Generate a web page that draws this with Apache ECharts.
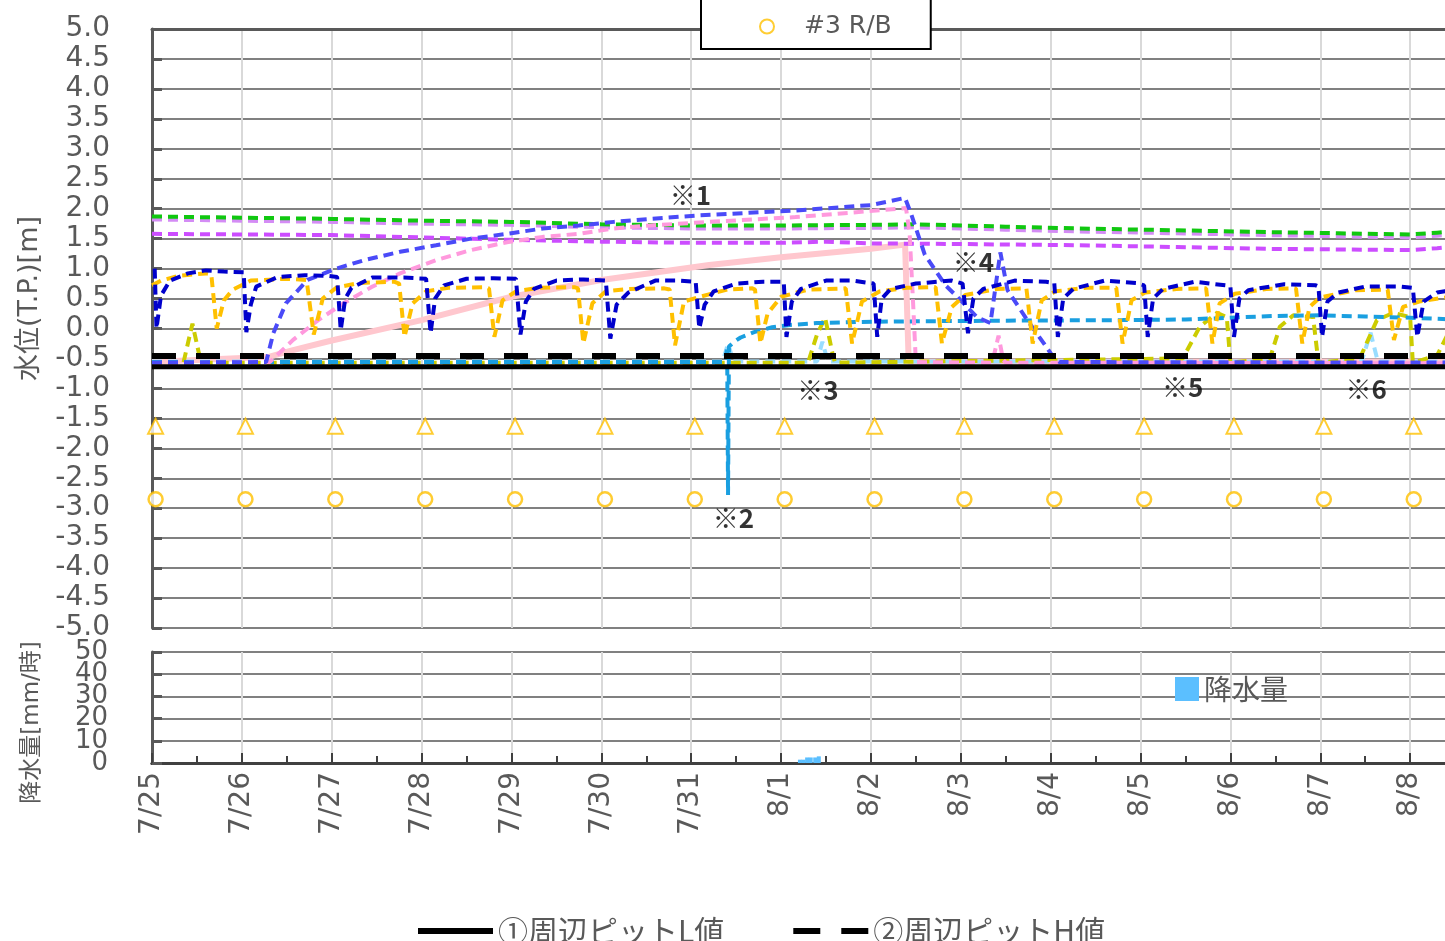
<!DOCTYPE html>
<html><head><meta charset="utf-8">
<script src="https://cdn.jsdelivr.net/npm/echarts@6/dist/echarts.min.js"></script>
<style>html,body{margin:0;padding:0;background:#fff;overflow:hidden}#c{width:1500px;height:941px}</style>
</head><body><div id="c"></div><script>
// ---- categories / tick labels ----
const dateLabels = ['7/25','7/26','7/27','7/28','7/29','7/30','7/31','8/1','8/2','8/3','8/4','8/5','8/6','8/7','8/8','8/9'];
const rainTicksA = [0,20,40];
const rainTicksB = [10,30,50];
// x values = days since 7/25 0:00
// ---- series values ----
const pitL = [[0,-0.64],[15,-0.64]];
const pitH = [[0,-0.46],[15,-0.46]];
const green = [[0,1.87],[1,1.85],[2,1.83],[3,1.8],[4,1.78],[5,1.74],[6,1.72],[7,1.72],[8,1.73],[8.5,1.74],[9.5,1.7],[10.3,1.67],[11.4,1.64],[12.4,1.61],[13.2,1.59],[14.0,1.57],[14.3,1.6],[14.5,1.62]];
const violet = [[0,1.82],[1,1.8],[2,1.78],[3,1.75],[4,1.73],[5,1.69],[6,1.67],[7,1.67],[8,1.68],[8.5,1.69],[9.5,1.65],[10.3,1.62],[11.4,1.59],[12.4,1.56],[13.2,1.54],[14.0,1.52],[14.3,1.55],[14.5,1.57]];
const magenta = [[0,1.58],[1,1.57],[2,1.56],[3,1.52],[4,1.48],[5,1.45],[6,1.43],[7,1.43],[7.5,1.45],[8,1.42],[9,1.41],[10.3,1.39],[11.4,1.36],[12.4,1.33],[13.2,1.32],[14.0,1.31],[14.3,1.34],[14.5,1.37]];
const blue = [[0,-0.57],[1.27,-0.56],[1.35,-0.08],[1.49,0.42],[1.73,0.81],[2.05,1.0],[2.36,1.14],[2.76,1.28],[3.16,1.39],[3.55,1.5],[3.95,1.58],[4.35,1.67],[4.75,1.72],[5.14,1.78],[5.54,1.83],[6.1,1.89],[7.16,1.97],[8.0,2.06],[8.38,2.18],[8.45,1.9],[8.6,1.23],[8.83,0.72],[8.96,0.53],[9.18,0.19],[9.33,0.09],[9.44,1.27],[9.52,0.64],[9.74,0.14],[9.92,-0.24],[10.03,-0.48],[10.1,-0.56],[14.5,-0.57]];
const pinkDash = [[0,-0.58],[1.31,-0.56],[1.57,-0.19],[1.85,0.14],[2.13,0.42],[2.44,0.69],[2.76,0.92],[3.16,1.14],[3.55,1.31],[3.95,1.44],[4.35,1.53],[4.75,1.58],[5.14,1.67],[5.54,1.72],[6.2,1.78],[7.16,1.86],[8.32,2.0],[8.39,2.01],[8.43,1.6],[8.47,0.4],[8.5,-0.56],[9.35,-0.57],[9.42,-0.12],[9.47,-0.52],[9.5,-0.57],[14.5,-0.58]];
const pinkSolid = [[0,-0.56],[1.31,-0.47],[1.57,-0.36],[2,-0.2],[3,0.14],[4,0.53],[5,0.81],[6.2,1.06],[7,1.19],[8,1.33],[8.38,1.4],[8.42,-0.55],[14.5,-0.55]];
const darkBlue = [[0.03,1.0],[0.05,0.0],[0.1,0.55],[0.2,0.8],[0.4,0.92],[0.6,0.97],[0.8,0.95],[1.02,0.94],[1.05,-0.06],[1.1,0.4],[1.16,0.7],[1.4,0.86],[1.7,0.89],[1.95,0.88],[2.06,0.86],[2.1,-0.03],[2.15,0.5],[2.22,0.68],[2.45,0.85],[2.8,0.85],[3.05,0.83],[3.1,-0.08],[3.15,0.5],[3.25,0.72],[3.5,0.83],[3.8,0.84],[4.05,0.83],[4.1,-0.1],[4.16,0.45],[4.25,0.66],[4.5,0.8],[4.8,0.82],[5.05,0.8],[5.1,-0.17],[5.17,0.4],[5.3,0.6],[5.6,0.8],[5.85,0.8],[6.05,0.78],[6.09,0.0],[6.15,0.4],[6.25,0.62],[6.5,0.75],[6.8,0.78],[7.03,0.78],[7.06,-0.14],[7.12,0.45],[7.22,0.66],[7.5,0.8],[7.8,0.8],[8.03,0.75],[8.07,-0.14],[8.12,0.5],[8.22,0.66],[8.5,0.75],[8.9,0.8],[9.02,0.75],[9.08,-0.08],[9.14,0.5],[9.25,0.66],[9.6,0.8],[9.95,0.78],[10.04,0.76],[10.08,-0.14],[10.14,0.5],[10.25,0.66],[10.6,0.8],[10.95,0.76],[11.04,0.72],[11.08,-0.14],[11.14,0.5],[11.25,0.66],[11.6,0.78],[11.95,0.72],[12.0,0.7],[12.04,-0.14],[12.1,0.5],[12.2,0.64],[12.6,0.74],[12.95,0.72],[12.98,0.7],[13.02,-0.14],[13.08,0.45],[13.2,0.6],[13.5,0.7],[13.9,0.7],[14.03,0.68],[14.08,-0.14],[14.15,0.45],[14.3,0.6],[14.5,0.65]];
const yellow = [[0,0.72],[0.1,0.8],[0.3,0.88],[0.6,0.92],[0.66,0.9],[0.72,0.0],[0.8,0.47],[0.9,0.65],[1.1,0.8],[1.5,0.83],[1.72,0.81],[1.8,-0.1],[1.9,0.5],[2.05,0.68],[2.3,0.76],[2.7,0.78],[2.75,0.75],[2.81,-0.14],[2.9,0.42],[3.05,0.62],[3.3,0.68],[3.7,0.69],[3.75,0.67],[3.81,-0.14],[3.9,0.47],[4.05,0.62],[4.3,0.68],[4.7,0.69],[4.74,0.67],[4.8,-0.25],[4.9,0.42],[5.05,0.62],[5.3,0.66],[5.7,0.67],[5.76,0.65],[5.82,-0.28],[5.92,0.45],[6.1,0.53],[6.4,0.65],[6.68,0.67],[6.71,0.65],[6.77,-0.25],[6.85,0.25],[7.0,0.53],[7.3,0.65],[7.72,0.67],[7.79,-0.25],[7.9,0.45],[8.1,0.62],[8.4,0.68],[8.72,0.69],[8.79,-0.25],[8.9,0.36],[9.05,0.56],[9.4,0.66],[9.73,0.67],[9.8,-0.25],[9.9,0.47],[10.05,0.62],[10.4,0.68],[10.73,0.68],[10.8,-0.25],[10.9,0.47],[11.05,0.6],[11.4,0.66],[11.73,0.67],[11.8,-0.25],[11.88,0.42],[12.05,0.58],[12.4,0.66],[12.73,0.67],[12.8,-0.25],[12.88,0.36],[13.0,0.52],[13.4,0.64],[13.75,0.65],[13.82,-0.19],[13.92,0.36],[14.1,0.45],[14.4,0.52]];
const mediumBlue = [[0,-0.56],[6.38,-0.56],[6.4,-0.3],[6.41,-2.78],[6.42,-0.3],[6.48,-0.22],[6.55,-0.15],[6.7,-0.06],[6.9,0.02],[7.1,0.06],[7.4,0.09],[7.9,0.11],[8.5,0.12],[9.4,0.13],[10.8,0.14],[11.5,0.15],[12.0,0.18],[12.5,0.21],[13.0,0.22],[13.5,0.2],[14.0,0.18],[14.5,0.15]];
const olive = [[0,-0.57],[0.35,-0.57],[0.45,0.08],[0.52,-0.4],[0.56,-0.57],[7.3,-0.57],[7.4,-0.1],[7.49,0.18],[7.57,-0.4],[7.6,-0.57],[11.47,-0.5],[11.66,0.03],[11.85,0.26],[11.96,0.19],[12.0,-0.57],[12.44,-0.5],[12.55,0.03],[12.7,0.22],[12.92,0.19],[12.98,-0.57],[13.44,-0.5],[13.63,0.14],[13.81,0.26],[14.0,0.19],[14.03,-0.57],[14.3,-0.45],[14.45,0.0]];
const lightBlue = [[0,-0.55],[6.35,-0.55],[6.41,-0.25],[6.47,-0.55],[7.4,-0.55],[7.46,-0.22],[7.52,-0.55],[13.46,-0.55],[13.56,-0.07],[13.64,-0.55],[14.5,-0.55]];
const tbMarks = [[0.04,-1.63],[1.04,-1.63],[2.04,-1.63],[3.04,-1.63],[4.04,-1.63],[5.04,-1.63],[6.04,-1.63],[7.04,-1.63],[8.04,-1.63],[9.04,-1.63],[10.04,-1.63],[11.04,-1.63],[12.04,-1.63],[13.04,-1.63],[14.04,-1.63]];
const rbMarks = [[0.04,-2.85],[1.04,-2.85],[2.04,-2.85],[3.04,-2.85],[4.04,-2.85],[5.04,-2.85],[6.04,-2.85],[7.04,-2.85],[8.04,-2.85],[9.04,-2.85],[10.04,-2.85],[11.04,-2.85],[12.04,-2.85],[13.04,-2.85],[14.04,-2.85]];
const rain = [[7.21,1.5],[7.25,1.5],[7.29,2.5],[7.33,2.5],[7.38,2.5],[7.42,3.0]];
const noteTexts = ['※1','※2','※3','※4','※5','※6'];
const notePos = [[5.99,2.23],[6.47,-3.16],[7.41,-1.03],[9.14,1.11],[11.47,-0.98],[13.51,-1.01]];

const NUM = "'DejaVu Sans','Noto Sans CJK JP',sans-serif";
const JP = "'Noto Sans CJK JP','DejaVu Sans',sans-serif";
const chart = echarts.init(document.getElementById('c'));
function ln(name, data, color, width, dash, extra) {
  return Object.assign({
    name, type:'line', data, xAxisIndex:0, yAxisIndex:0, symbol:'none', showSymbol:false,
    lineStyle:{color, width, type:dash, cap:'butt'}, itemStyle:{color}, silent:true, animation:false
  }, extra||{});
}
const xCommon = {type:'value', min:0, max:15, interval:1};
function rainAxis(ticks, main) {
  return {gridIndex:1, type:'value', min:0, max:50, interval:10, position:'left', offset:0,
    name: main ? '降水量[mm/時]' : '', nameLocation:'middle', nameGap:108, nameRotate:90,
    nameTextStyle:{fontSize:23, color:'#595959', fontFamily:NUM, padding:[0,30,0,0]},
    axisLine:{show:main, lineStyle:{color:'#595959', width:3}},
    axisTick:{show:main, inside:true, length:10, lineStyle:{color:'#595959', width:3}},
    axisLabel:{fontSize:26, color:'#595959', margin:44, fontFamily:NUM, padding:[0,0,8,0],
      showMinLabel:true, showMaxLabel:true, hideOverlap:false,
      formatter:v=>ticks.indexOf(v)>=0 ? String(v) : ''},
    splitLine:{show:main, lineStyle:{color:'#808080', width:2}}};
}
chart.setOption({
  animation:false,
  textStyle:{fontFamily:NUM},
  grid:[
    {left:152, right:0, top:29, bottom:313, outerBoundsMode:'none', containLabel:false},
    {left:152, right:0, top:652, bottom:178, outerBoundsMode:'none', containLabel:false}
  ],
  xAxis:[
    Object.assign({gridIndex:0, axisLine:{show:false}, axisTick:{show:false}, axisLabel:{show:false},
      splitLine:{show:true, lineStyle:{color:'#D9D9D9', width:2}}}, xCommon),
    Object.assign({gridIndex:0, position:'top', axisLine:{show:true, lineStyle:{color:'#595959', width:3}},
      axisTick:{show:false}, axisLabel:{show:false}, splitLine:{show:false}}, xCommon),
    Object.assign({gridIndex:1, position:'bottom', axisLine:{show:true, lineStyle:{color:'#404040', width:3}},
      axisTick:{show:true, inside:true, length:10, lineStyle:{color:'#404040', width:2}},
      minorTick:{show:true, splitNumber:2, length:7, lineStyle:{color:'#404040', width:2}},
      axisLabel:{rotate:90, margin:9, fontSize:28, color:'#595959', fontFamily:NUM,
        formatter:v=>dateLabels[Math.round(v)]},
      splitLine:{show:true, lineStyle:{color:'#D9D9D9', width:2}}}, xCommon),
    Object.assign({gridIndex:1, position:'top', axisLine:{show:true, lineStyle:{color:'#404040', width:3}},
      axisTick:{show:false}, axisLabel:{show:false}, splitLine:{show:false}}, xCommon)
  ],
  yAxis:[
    {gridIndex:0, type:'value', min:-5, max:5, interval:0.5,
      name:'水位(T.P.)[m]', nameLocation:'middle', nameGap:109, nameRotate:90,
      nameTextStyle:{fontSize:27, color:'#595959', fontFamily:NUM, padding:[0,0,0,60]},
      axisLine:{show:true, lineStyle:{color:'#595959', width:3}},
      axisTick:{show:true, inside:true, length:10, lineStyle:{color:'#595959', width:3}},
      axisLabel:{fontSize:28, color:'#595959', margin:42, fontFamily:NUM, padding:[0,0,8,0],
        showMinLabel:true, showMaxLabel:true, formatter:v=>v.toFixed(1)},
      splitLine:{show:true, lineStyle:{color:'#808080', width:2}}},
    rainAxis(rainTicksA, true),
    rainAxis(rainTicksB, false)
  ],
  legend:[
    {data:['#3 R/B'], left:701, top:-30, orient:'horizontal', borderColor:'#000', borderWidth:2,
      padding:[44,39,10,58], itemWidth:64, itemHeight:14, backgroundColor:'#fff',
      textStyle:{fontSize:25, color:'#595959', fontFamily:NUM}},
    {data:[{name:'①周辺ピットL値', icon:'rect'},
           {name:'②周辺ピットH値', icon:'path://M0,0H27V6H0Z M48,0H75V6H48Z'}],
      left:418, top:916, padding:0, itemWidth:75, itemHeight:6, itemGap:69, symbolKeepAspect:false,
      itemStyle:{color:'#000', borderWidth:0},
      textStyle:{fontSize:30, color:'#595959', fontFamily:JP}},
    {data:['降水量'], left:1175, top:675, padding:0, itemWidth:24, itemHeight:24, icon:'rect',
      textStyle:{fontSize:28, color:'#595959', fontFamily:JP}}
  ],
  series:[
    ln('L1', pinkSolid, '#FFC7CE', 6, 'solid'),
    ln('N1', lightBlue, '#99DDFF', 4, [10,6]),
    ln('N2', olive, '#CCCC00', 4, [10,6]),
    ln('N3', mediumBlue, '#1A9FE0', 4, [10,6]),
    ln('V1', violet, '#D48CF5', 4, [10,6]),
    ln('G1', green, '#10C810', 4, [10,6]),
    ln('M1', magenta, '#CC4DFF', 4, [10,6]),
    ln('P1', pinkDash, '#FF99DD', 4, [10,6]),
    ln('B1', blue, '#4A4AF8', 4, [10,6]),
    ln('Y1', yellow, '#FFC000', 4, [10,6]),
    ln('D1', darkBlue, '#0000CC', 4, [10,6]),
    {name:'#3 T/B', type:'scatter', data:tbMarks, xAxisIndex:0, yAxisIndex:0, symbol:'triangle', symbolSize:15,
      itemStyle:{color:'#fff', borderColor:'#FFC000', borderWidth:2}, silent:true},
    {name:'#3 R/B', type:'scatter', data:rbMarks, xAxisIndex:0, yAxisIndex:0, symbol:'circle', symbolSize:14,
      itemStyle:{color:'#fff', borderColor:'#FFC000', borderWidth:2.5}, silent:true},
    ln('②周辺ピットH値', pitH, '#000', 6, [24,20]),
    ln('①周辺ピットL値', pitL, '#000', 5, 'solid'),
    {name:'notes', type:'scatter', xAxisIndex:0, yAxisIndex:0, symbolSize:1, silent:true,
      itemStyle:{color:'rgba(0,0,0,0)'},
      data:noteTexts.map((t,i)=>({name:t, value:notePos[i]})),
      label:{show:true, position:'inside', formatter:p=>p.name, fontSize:26, fontWeight:'bold', color:'#000', fontFamily:JP}},
    {name:'降水量', type:'bar', data:rain, xAxisIndex:2, yAxisIndex:1, barWidth:4,
      itemStyle:{color:'#5BBFFF'}, silent:true}
  ]
});
</script></body></html>
